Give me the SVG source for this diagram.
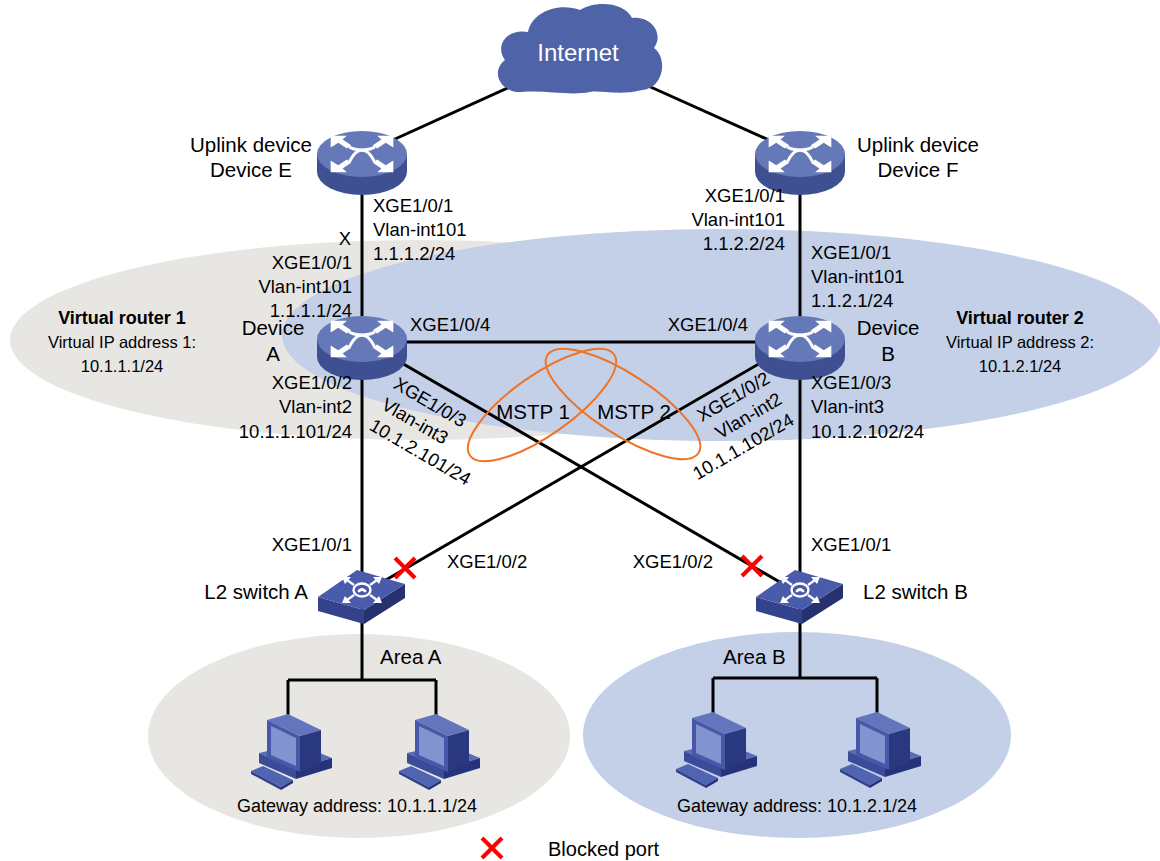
<svg xmlns="http://www.w3.org/2000/svg" width="1160" height="861" viewBox="0 0 1160 861">
<defs>
<style>
text { font-family: "Liberation Sans", Arial, Helvetica, sans-serif; font-size: 18.5px; fill: #000; }
.dev { font-size: 20.5px; }
.vr { font-size: 18px; font-weight: bold; }
.vip { font-size: 16.5px; }
.gw { font-size: 18px; }
.end { text-anchor: end; }
.mid { text-anchor: middle; }
.conn { stroke: #000; stroke-width: 3; fill: none; }
.mstp { stroke: #f07325; stroke-width: 2; fill: none; }
.blk { stroke: #ff0000; stroke-width: 4; fill: none; }
.wht { fill: #fff; }
.wln { stroke: #fff; stroke-width: 2.8; fill: none; stroke-linecap: round; }
</style>

<!-- core router: flat cylinder with crossed-arrow emblem, origin at top-face centre -->
<g id="router">
  <path d="M-45,0 V18 A45,23 0 0 0 45,18 V0 Z" fill="#3f5092"/>
  <ellipse rx="45" ry="23" fill="#6579b9"/>
  <g transform="scale(1.08)">
    <g id="rarrow">
      <polygon class="wht" points="-29,-17 -14,-17 -18,-13.5 -10,-8 -14,-5 -22,-10.5 -29,-6"/>
    </g>
    <use href="#rarrow" transform="scale(-1,1)"/>
    <use href="#rarrow" transform="scale(1,-1)"/>
    <use href="#rarrow" transform="scale(-1,-1)"/>
    <path class="wln" d="M-11,-6 C-3,-1 3,-9 11,6"/>
    <path class="wln" d="M11,-6 C3,-1 -3,-9 -11,6"/>
  </g>
</g>

<!-- access switch: isometric slab, origin at top-face centre -->
<g id="switch">
  <polygon points="-44,6 2,19 2,33 -44,20" fill="#34428c"/>
  <polygon points="2,19 43,-7 43,7 2,33" fill="#26326f"/>
  <polygon points="-44,6 -5,-21 43,-7 2,19" fill="#4b5bab"/>
  <ellipse cx="0" cy="-1" rx="8.5" ry="6.5" fill="none" stroke="#fff" stroke-width="2.4"/>
  <path class="wln" d="M-3,0 q3,-3 6,0" stroke-width="1.6"/>
  <g id="sarrow">
    <line x1="-8" y1="-6" x2="-15" y2="-11" stroke="#fff" stroke-width="2.2"/>
    <polygon class="wht" points="-20,-14 -11,-14 -17,-7"/>
  </g>
  <use href="#sarrow" transform="scale(-1,1)"/>
  <use href="#sarrow" transform="translate(0,-2) scale(1,-1)"/>
  <use href="#sarrow" transform="translate(0,-2) scale(-1,-1)"/>
</g>

<!-- desktop PC, origin where the drop cable meets the monitor -->
<g id="pc">
  <path d="M-29,37 L10,28 L44,42 L8,53 Z" fill="#5a6cb6"/>
  <path d="M-29,37 L8,53 L8,63 L-29,47 Z" fill="#3b4b98"/>
  <path d="M8,53 L44,42 L44,52 L8,63 Z" fill="#26337a"/>
  <path d="M-21,4 L0,-2 L33,14 L12,20 Z" fill="#6376bd"/>
  <path d="M12,20 L33,14 L33,48 L12,56 Z" fill="#2a387f"/>
  <path d="M-21,4 L12,20 L12,56 L-21,42 Z" fill="#4858a8"/>
  <path d="M-17,10 L8,22 L8,50 L-17,39 Z" fill="#8393d0"/>
  <path d="M-37,55 L-25,50 L5,64 L-7,71 Z" fill="#5064b2"/>
  <path d="M-37,55 L-7,71 L-7,74 L-37,58 Z" fill="#33418c"/>
  <path d="M-7,71 L5,64 L5,67 L-7,74 Z" fill="#26337a"/>
</g>

<!-- blocked-port cross -->
<g id="cross">
  <line class="blk" x1="-10" y1="-10" x2="10" y2="10"/>
  <line class="blk" x1="10" y1="-10" x2="-10" y2="10"/>
</g>
</defs>

<rect width="1160" height="861" fill="#fff"/>

<!-- shaded regions -->
<g id="regions">
  <ellipse cx="420" cy="340" rx="410" ry="100" fill="#e8e6e3"/>
  <ellipse cx="722" cy="335" rx="440" ry="106" fill="#c3d0e8"/>
  <ellipse cx="359" cy="736" rx="211" ry="102" fill="#e8e6e3"/>
  <ellipse cx="797" cy="735" rx="214" ry="103" fill="#c3d0e8"/>
</g>

<!-- links -->
<g id="connectors">
  <path class="conn" d="M525,80 L362,154"/>
  <path class="conn" d="M635,80 L800,154"/>
  <path class="conn" d="M362,154 V339"/>
  <path class="conn" d="M800,154 V339"/>
  <path class="conn" d="M362,342 H800"/>
  <path class="conn" d="M362,339 V591"/>
  <path class="conn" d="M800,339 V591"/>
  <path class="conn" d="M362,340 L790,588"/>
  <path class="conn" d="M800,340 L372,588"/>
  <path class="conn" d="M362,600 V680 M288,680 H436 M288,680 V716 M436,680 V716"/>
  <path class="conn" d="M800,600 V678 M713,678 H877 M713,678 V714 M877,678 V714"/>
</g>

<!-- MSTP instances -->
<g id="mstp">
  <ellipse class="mstp" cx="542" cy="405" rx="88" ry="30" transform="rotate(-35 542 405)"/>
  <ellipse class="mstp" cx="623" cy="404" rx="90" ry="30" transform="rotate(33 623 404)"/>
  <text class="mid" x="533" y="419" style="font-size:20.5px">MSTP 1</text>
  <text class="mid" x="634" y="419" style="font-size:20.5px">MSTP 2</text>
</g>

<g id="internet">
  <path d="M522,92 C500,93 490,72 505,60 C494,45 508,28 528,32 C532,12 558,2 580,10 C595,0 625,2 632,18 C652,16 664,34 654,48 C668,58 664,88 642,90 C620,96 600,90 590,92 C570,96 545,90 522,92 Z" fill="#4f63a8"/>
  <text class="mid" x="578" y="61" style="font-size:24px;fill:#fff">Internet</text>
</g>

<g id="deviceE">
  <use href="#router" x="362" y="154"/>
  <text class="dev mid" x="251" y="152">Uplink device</text>
  <text class="dev mid" x="251" y="177">Device E</text>
  <text x="373" y="212">XGE1/0/1</text>
  <text x="373" y="236">Vlan-int101</text>
  <text x="373" y="260">1.1.1.2/24</text>
</g>

<g id="deviceF">
  <use href="#router" x="800" y="154"/>
  <text class="dev mid" x="918" y="152">Uplink device</text>
  <text class="dev mid" x="918" y="177">Device F</text>
  <text class="end" x="785" y="202">XGE1/0/1</text>
  <text class="end" x="785" y="226">Vlan-int101</text>
  <text class="end" x="785" y="250">1.1.2.2/24</text>
</g>

<g id="deviceA">
  <use href="#router" x="362" y="339"/>
  <text class="end" x="351" y="245">X</text>
  <text class="end" x="352" y="269">XGE1/0/1</text>
  <text class="end" x="352" y="293">Vlan-int101</text>
  <text class="end" x="352" y="317">1.1.1.1/24</text>
  <text class="dev mid" x="273" y="335">Device</text>
  <text class="dev mid" x="273" y="361">A</text>
  <text x="410" y="331">XGE1/0/4</text>
  <text class="end" x="352" y="389">XGE1/0/2</text>
  <text class="end" x="352" y="413">Vlan-int2</text>
  <text class="end" x="352" y="438">10.1.1.101/24</text>
  <g transform="translate(362,340) rotate(30.1)">
    <text x="50" y="26">XGE1/0/3</text>
    <text x="50" y="50">Vlan-int3</text>
    <text x="50" y="74">10.1.2.101/24</text>
  </g>
</g>

<g id="deviceB">
  <use href="#router" x="800" y="339"/>
  <text x="811" y="259">XGE1/0/1</text>
  <text x="811" y="283">Vlan-int101</text>
  <text x="811" y="307">1.1.2.1/24</text>
  <text class="dev mid" x="888" y="335">Device</text>
  <text class="dev mid" x="888" y="361">B</text>
  <text class="end" x="748" y="331">XGE1/0/4</text>
  <text x="811" y="389">XGE1/0/3</text>
  <text x="811" y="413">Vlan-int3</text>
  <text x="811" y="438">10.1.2.102/24</text>
  <g transform="translate(800,340) rotate(-30.1)">
    <text class="end" x="-46" y="22">XGE1/0/2</text>
    <text class="end" x="-46" y="46">Vlan-int2</text>
    <text class="end" x="-46" y="70">10.1.1.102/24</text>
  </g>
</g>

<g id="virtualRouter1">
  <text class="vr mid" x="122" y="324">Virtual router 1</text>
  <text class="vip mid" x="122" y="348">Virtual IP address 1:</text>
  <text class="vip mid" x="122" y="372">10.1.1.1/24</text>
</g>

<g id="virtualRouter2">
  <text class="vr mid" x="1020" y="324">Virtual router 2</text>
  <text class="vip mid" x="1020" y="348">Virtual IP address 2:</text>
  <text class="vip mid" x="1020" y="372">10.1.2.1/24</text>
</g>

<g id="switchA">
  <use href="#switch" x="362" y="591"/>
  <text class="end" x="352" y="551">XGE1/0/1</text>
  <text x="447" y="568">XGE1/0/2</text>
  <text class="dev end" x="308" y="599">L2 switch A</text>
  <use href="#cross" x="405" y="568"/>
</g>

<g id="switchB">
  <use href="#switch" x="800" y="591"/>
  <text x="811" y="551">XGE1/0/1</text>
  <text class="end" x="713" y="568">XGE1/0/2</text>
  <text class="dev" x="863" y="599">L2 switch B</text>
  <use href="#cross" x="752" y="566"/>
</g>

<g id="areaA">
  <text class="dev" x="380" y="664">Area A</text>
  <use href="#pc" x="288" y="716"/>
  <use href="#pc" x="436" y="716"/>
  <text class="gw mid" x="357" y="812">Gateway address: 10.1.1.1/24</text>
</g>

<g id="areaB">
  <text class="dev" x="723" y="664">Area B</text>
  <use href="#pc" x="713" y="714"/>
  <use href="#pc" x="877" y="714"/>
  <text class="gw mid" x="797" y="812">Gateway address: 10.1.2.1/24</text>
</g>

<g id="legend">
  <use href="#cross" x="492" y="848"/>
  <text x="548" y="856" style="font-size:20px">Blocked port</text>
</g>
</svg>
